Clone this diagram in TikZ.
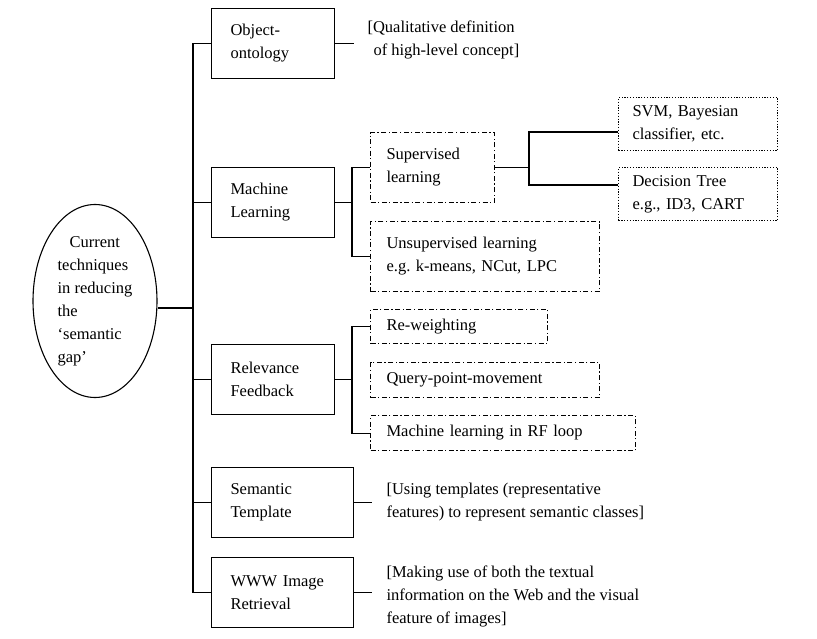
\documentclass[tikz,border=0pt]{standalone}
\usepackage{fontspec}
\setmainfont{Liberation Serif}
\usetikzlibrary{shapes.geometric}
\begin{document}
\begin{tikzpicture}[x=1pt,y=-1pt,line width=1.1pt,
  font=\fontsize{16.5}{23}\selectfont,
  mainbox/.style={draw,rectangle,anchor=north west,minimum height=70pt,inner ysep=0pt,inner xsep=19pt,align=left},
  dashbox/.style={draw,rectangle,anchor=north west,inner ysep=0pt,inner xsep=16pt,align=left,dash pattern=on 5pt off 2.5pt on 1.2pt off 2.5pt},
  dotbox/.style={draw,rectangle,anchor=north west,inner ysep=0pt,inner xsep=14pt,align=left,dash pattern=on 1.2pt off 1.6pt},
  ann/.style={anchor=west,inner sep=0pt,align=left}]
\useasboundingbox (0,0) rectangle (817,639);

% root
\node[draw,ellipse,minimum width=124pt,minimum height=193pt,inner sep=0pt,align=left] (root) at (95,301)
  {\hspace*{12pt}Current\\techniques\\in reducing\\the\\`semantic\\gap'};

% level 1
\node[mainbox,text width=85pt] (oo) at (211,8) {Object-\\ontology};
\node[mainbox,text width=85pt] (ml) at (211,167) {Machine\\Learning};
\node[mainbox,text width=85pt] (rf) at (211,344) {Relevance\\Feedback};
\node[mainbox,text width=104pt] (sem) at (211,467) {Semantic\\Template};
\node[mainbox,text width=104pt] (www) at (211,557) {WWW Image\\Retrieval};

% annotations
\node[ann] (ooann) at (367,40) {[Qualitative definition\\\hspace*{6pt}of high-level concept]};
\node[ann] (semann) at (386,502) {[Using templates (representative\\features) to represent semantic classes]};
\node[ann] (wwwann) at (386,596) {[Making use of both the textual\\information on the Web and the visual\\feature of images]};

% machine learning children
\node[dashbox,text width=92pt,minimum height=70pt] (sup) at (370,132) {Supervised\\learning};
\node[dashbox,text width=197pt,minimum height=70pt] (uns) at (370,221) {Unsupervised learning\\e.g.\ k-means, NCut, LPC};
\node[dotbox,text width=131pt,minimum height=53pt] (svm) at (618,97) {SVM, Bayesian\\classifier, etc.};
\node[dotbox,text width=131pt,minimum height=53pt] (dt) at (618,167) {Decision Tree\\e.g., ID3, CART};

% relevance feedback children
\node[dashbox,text width=145pt,minimum height=34pt] (rw) at (370,309) {Re-weighting};
\node[dashbox,text width=197pt,minimum height=35pt] (qpm) at (370,362) {Query-point-movement};
\node[dashbox,text width=233pt,minimum height=35pt] (mlrf) at (370,415) {Machine learning in RF loop};

% coordinates
\coordinate (t1) at (193,0);
\coordinate (b1) at (352,0);
\coordinate (b2) at (529,132);
\coordinate (b3) at (529,185);
\coordinate (rj) at (193,308);

% trunk
\draw (oo.west) -- (oo.west -| t1) -- (www.west -| t1) -- (www.west);
\draw (ml.west) -- (ml.west -| t1);
\draw (rf.west) -- (rf.west -| t1);
\draw (sem.west) -- (sem.west -| t1);
\draw (rj) -- (rj -| root.east);

% annotation stubs
\draw (oo.east) -- ++(19,0);
\draw (sem.east) -- ++(18,0);
\draw (www.east) -- ++(18,0);

% ML branch
\draw (ml.east) -- (ml.east -| b1);
\draw (sup.west) -- (sup.west -| b1) -- (uns.west -| b1) -- (uns.west);
\draw (sup.east) -- (sup.east -| b2);
\draw (b2 -| svm.west) -- (b2) -- (b3) -- (b3 -| dt.west);

% RF branch
\draw (rf.east) -- (rf.east -| b1);
\draw (rw.west) -- (rw.west -| b1) -- (mlrf.west -| b1) -- (mlrf.west);
\end{tikzpicture}
\end{document}
